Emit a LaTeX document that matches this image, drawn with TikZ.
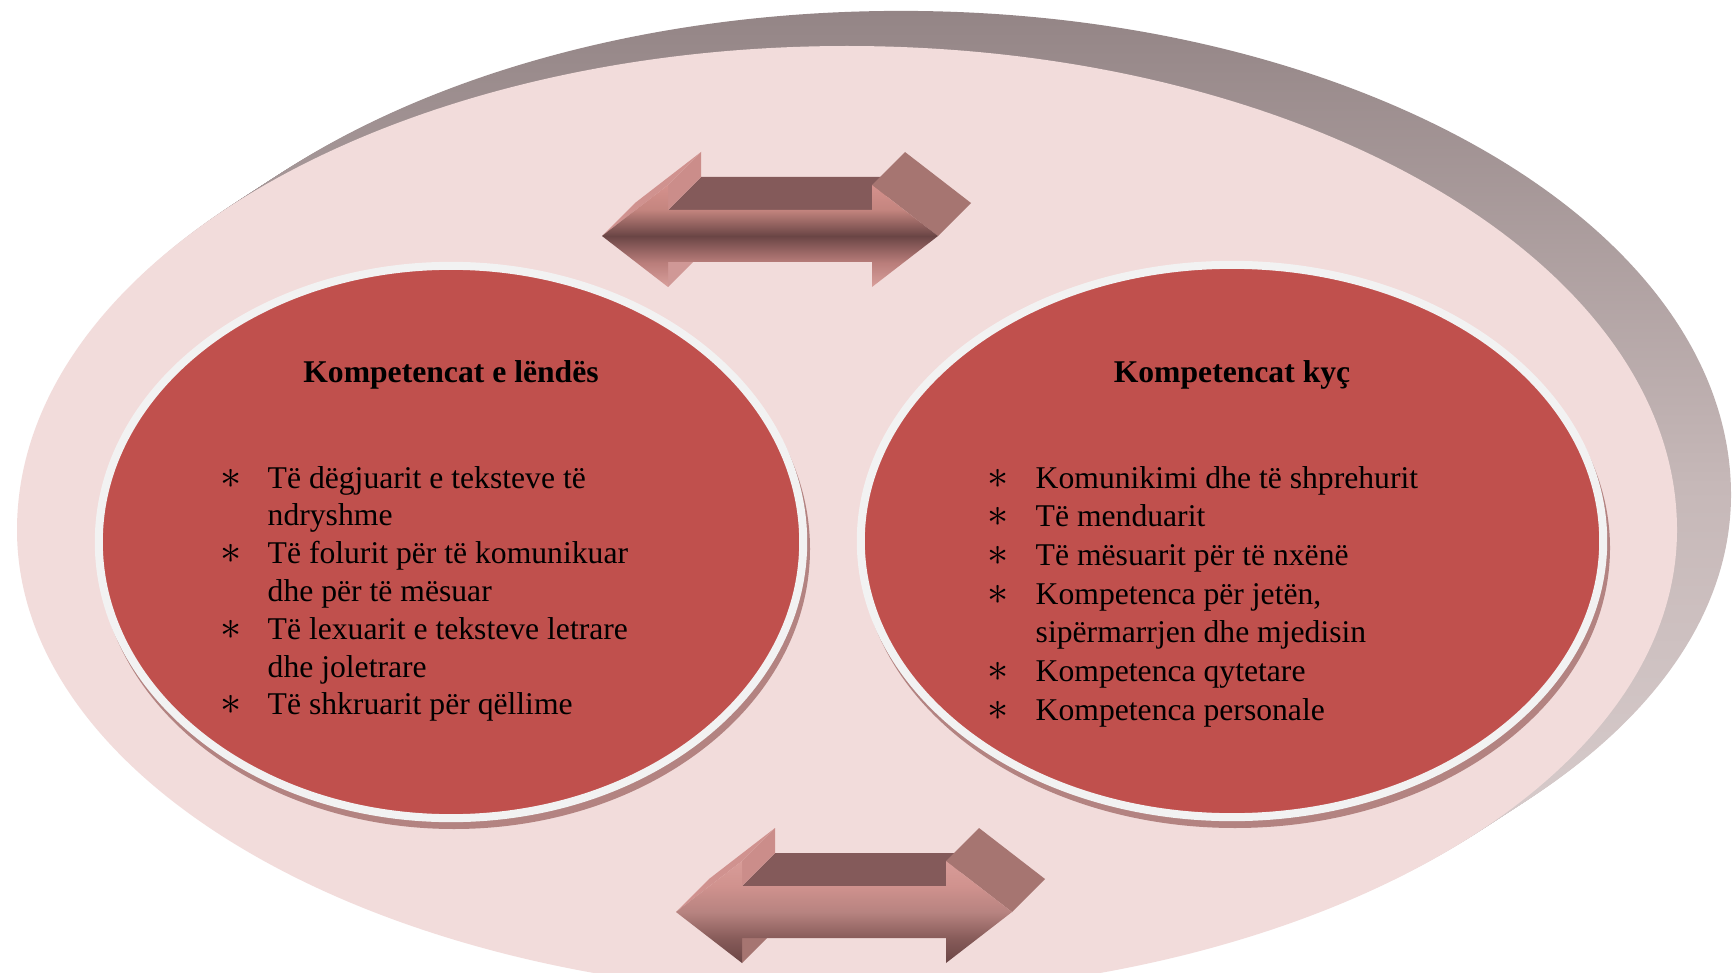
\documentclass[tikz,border=0pt]{standalone}
\usepackage{graphicx}
\usepackage{fontspec}
\setmainfont{Liberation Serif}
\usetikzlibrary{shapes.geometric}

\definecolor{facepink}{HTML}{F2DCDB}
\definecolor{bandtop}{HTML}{948586}
\definecolor{bandmid}{HTML}{C6B8B8}
\definecolor{bandbot}{HTML}{DDD2D2}
\definecolor{ringwhite}{HTML}{F2F2F2}
\definecolor{accentred}{HTML}{C0504D}
\definecolor{shadowred}{HTML}{B38381}
\definecolor{shafttop}{HTML}{845A5A}
\definecolor{headblock}{HTML}{A67571}
\definecolor{stepface}{HTML}{CB8D8A}
\definecolor{slantface}{HTML}{D0928F}

\pgfdeclareverticalshading{toparrow}{100bp}{
  rgb(0bp)=(0.851,0.627,0.612); rgb(25bp)=(0.851,0.627,0.612);
  rgb(37bp)=(0.725,0.490,0.478); rgb(50bp)=(0.416,0.271,0.271);
  rgb(63bp)=(0.769,0.522,0.498); rgb(75bp)=(0.835,0.569,0.553);
  rgb(100bp)=(0.835,0.569,0.553)}
\pgfdeclareverticalshading{bottomarrow}{100bp}{
  rgb(0bp)=(0.416,0.271,0.271); rgb(25bp)=(0.416,0.271,0.271);
  rgb(37bp)=(0.529,0.357,0.349); rgb(50bp)=(0.718,0.514,0.502);
  rgb(63bp)=(0.816,0.573,0.557); rgb(75bp)=(0.847,0.612,0.596);
  rgb(100bp)=(0.847,0.612,0.596)}

\tikzset{
  compbox/.style={ellipse, draw=ringwhite, line width=0.08cm, fill=accentred,
    inner sep=0pt},
  titletext/.style={font=\fontsize{9}{10.75}\selectfont\bfseries, anchor=base,
    inner sep=0pt},
  listtext/.style={font=\fontsize{9}{#1}\selectfont, anchor=base west,
    inner sep=0pt}
}

\newcommand{\bul}{\scalebox{1.3}{$\ast$}}

% outer disc face, y counted downwards
\newcommand{\outerface}[1]{\path[#1] (17,530)
  arc[start angle=180, end angle=360, x radius=830, y radius=484]
  arc[start angle=0, end angle=180, x radius=830, y radius=465] -- cycle;}

% double arrow with its extruded side faces
\newcommand{\dblarrow}[3]{%
  \begin{scope}[shift={#1}]
    \fill[shafttop] (66,-26) -- (270,-26) -- (303,-59) -- (99,-59) -- cycle;
    \fill[stepface] (66,-51) -- (66,-26) -- (99,-59) -- (99,-84) -- cycle;
    \fill[#3] (66,26) -- (66,51) -- (99,18) -- (99,-7) -- cycle;
    \fill[slantface] (0,0) -- (66,-51) -- (99,-84) -- (33,-33) -- cycle;
    \fill[headblock] (270,-51) -- (336,0) -- (369,-33) -- (303,-84) -- cycle;
    \shade[shading=#2] (0,0) -- (66,-51) -- (66,-26) -- (270,-26) -- (270,-51)
      -- (336,0) -- (270,51) -- (270,26) -- (66,26) -- (66,51) -- cycle;
  \end{scope}}

\begin{document}
\begin{tikzpicture}[x=0.01cm, y=-0.01cm]
\useasboundingbox (0,0) rectangle (1733,973);
\fill[white] (0,0) rectangle (1733,973);

% outer disc: side band, then face
\foreach \s in {1,...,18}
  {\outerface{top color=bandtop, bottom color=bandbot, middle color=bandmid,
    shift={(3*\s,-1.95*\s)}}}
\outerface{fill=facepink}

% arrows
\dblarrow{(602,236)}{toparrow}{stepface!90!white}
\dblarrow{(676,912)}{bottomarrow}{headblock}

% shadows under the two ellipses
\fill[shadowred] (454,549) ellipse [x radius=356, y radius=280];
\fill[shadowred] (1235,548) ellipse [x radius=375, y radius=280];

\node[compbox, minimum width=7.04cm, minimum height=5.52cm] (lenda) at (451,542) {};
\node[compbox, minimum width=7.42cm, minimum height=5.52cm] (kyc) at (1232,541) {};

\node[titletext] (lendaTitle) at (451,383) {Kompetencat e lëndës};
\node[titletext] (kycTitle) at (1232,383) {Kompetencat kyç};

\node[listtext=10.75] (lendaList) at (220,488) {%
  \begin{tabular}[t]{@{}p{0.47cm}@{}l@{}}
    \bul & Të dëgjuarit e teksteve të\\
         & ndryshme\\
    \bul & Të folurit për të komunikuar\\
         & dhe për të mësuar\\
    \bul & Të lexuarit e teksteve letrare\\
         & dhe joletrare\\
    \bul & Të shkruarit për qëllime
  \end{tabular}};

\node[listtext=11] (kycList) at (987,488) {%
  \begin{tabular}[t]{@{}p{0.48cm}@{}l@{}}
    \bul & Komunikimi dhe të shprehurit\\
    \bul & Të menduarit\\
    \bul & Të mësuarit për të nxënë\\
    \bul & Kompetenca për jetën,\\
         & sipërmarrjen dhe mjedisin\\
    \bul & Kompetenca qytetare\\
    \bul & Kompetenca personale
  \end{tabular}};
\end{tikzpicture}
\end{document}
